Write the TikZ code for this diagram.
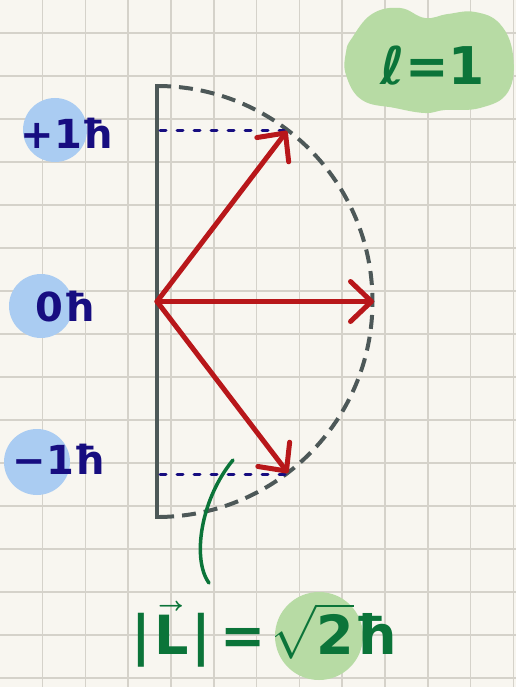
\documentclass[tikz,border=0pt]{standalone}
\usepackage{fontspec}
\setmainfont{DejaVu Sans}
\usepackage{unicode-math}
\setmathfont{Latin Modern Math}
\usetikzlibrary{arrows.meta}
\definecolor{paper}{HTML}{F8F6F0}
\definecolor{gridc}{HTML}{D5D2CA}
\definecolor{barc}{HTML}{4D5858}
\definecolor{vecred}{HTML}{B8171A}
\definecolor{navy}{HTML}{170D80}
\definecolor{bluefill}{HTML}{AACCF2}
\definecolor{greentxt}{HTML}{0B7439}
\definecolor{greenfill}{HTML}{B7DBA4}
\begin{document}
\begin{tikzpicture}[x=1pt,y=-1pt,
  gridline/.style={gridc,line width=1.6pt},
  barline/.style={barc,line width=4pt,line join=miter},
  dasharc/.style={barc,line width=4pt,dash pattern=on 14pt off 8pt},
  vecarrow/.style={vecred,line width=5pt,line cap=round,-{Straight Barb[length=21pt,width=40pt,round]}},
  projline/.style={navy,line width=3pt,line cap=round,dash pattern=on 6pt off 11pt},
  mlabel/.style={navy,font=\bfseries\fontsize{40}{40}\selectfont,inner sep=0pt},
  gtext/.style={greentxt,inner sep=0pt},
  blob/.style={fill=bluefill},
  hilite/.style={fill=greenfill},
  leader/.style={greentxt,line width=3.5pt,line cap=round}]
\fill[paper] (0,0) rectangle (516,687);
\useasboundingbox (0,0) rectangle (516,687);
% grid
\foreach \i in {0,...,11} \draw[gridline] ({42.5+42.8*\i},0) -- ({42.5+42.8*\i},687);
\foreach \j in {0,...,15} \draw[gridline] (0,{33+43*\j}) -- (516,{33+43*\j});
% highlights
\fill[blob] (55,130) circle[radius=32pt];
\fill[blob] (41,306) circle[radius=32pt];
\fill[blob] (37,462) circle[radius=33pt];
\fill[hilite] plot[smooth cycle,tension=0.7] coordinates {(352,38) (372,14) (400,8) (425,18) (448,14) (475,12) (500,24) (513,55) (508,92) (480,108) (445,110) (425,113) (395,108) (362,100) (346,75) (346,52)};
\fill[hilite] (319,636) circle[radius=44pt];
% geometry
\coordinate (O) at (157,301.5);
\coordinate (Top) at (157,86);
\coordinate (Bot) at (157,517);
\coordinate (Tp) at (287,131);
\coordinate (Tz) at (374,301.5);
\coordinate (Tm) at (288,473);
\coordinate (Ap) at (160,131);
\coordinate (Am) at (160,474);
\coordinate (Lstart) at (233,460);
\draw[dasharc] (Top) arc[start angle=90,end angle=-90,radius=215.5pt];
\draw[barline] ([xshift=8pt]Top) -- (Top) -- (Bot) -- ([xshift=8pt]Bot);
\draw[projline] (Ap) -- ([xshift=-3pt]Tp);
\draw[projline] (Am) -- ([xshift=-3pt]Tm |- Am);
\draw[vecarrow] (O) -- (Tp);
\draw[vecarrow] (O) -- (Tz);
\draw[vecarrow] (O) -- (Tm);
% labels
\node[mlabel] (mp) at (67,133) {+1ħ};
\node[mlabel] (mz) at (65,307) {0ħ};
\node[mlabel] (mm) at (59,459) {−1ħ};
\node[gtext,font=\bfseries\fontsize{52}{52}\selectfont] (ell) at (433,66) {ℓ=1};
\node[gtext,font=\bfseries\fontsize{54}{54}\selectfont] (Lmag) at (264,634)
  {$\hbox{\bfseries|}\mkern1mu\vec{\hbox{\bfseries L}}\mkern1mu\hbox{\bfseries|}\mkern3mu\hbox{\bfseries=}\mkern2mu\sqrt{\hbox{\bfseries 2}}\hbox{\bfseries ħ}$};
\draw[leader] (Lstart) .. controls (200,500) and (192,560) .. (209,583);
\end{tikzpicture}
\end{document}
